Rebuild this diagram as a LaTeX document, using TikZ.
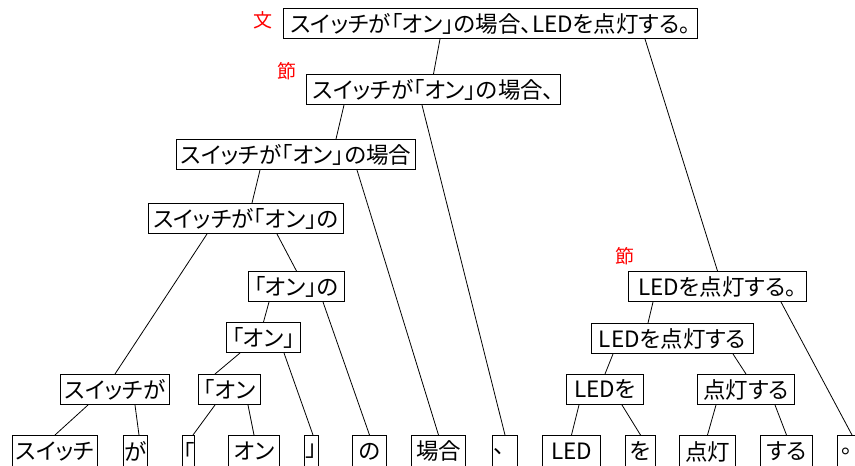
\documentclass[tikz,border=0pt]{standalone}
\usepackage{fontspec}
\newfontfamily\jp[RawFeature=+palt]{Noto Sans CJK JP}
\newfontfamily\jpfull{Noto Sans CJK JP}
\tikzset{
  bx/.style={draw, line width=1pt, inner sep=0pt, anchor=north west, minimum height=30pt, font=\jp\fontsize{22.5}{22.5}\selectfont},
  full/.style={font=\jpfull\fontsize{22.5}{22.5}\selectfont},
  lbl/.style={text=red, inner sep=0pt, font=\jp\fontsize{19}{19}\selectfont},
  ln/.style={line width=0.8pt}
}
\begin{document}
\begin{tikzpicture}[x=1pt,y=-1pt]
\useasboundingbox (0,0) rectangle (855,466);
% top
\node[bx, minimum width=414pt] (S0) at (283,8) {スイッチが「オン」の場合、LEDを点灯する。};
\node[bx, minimum width=254pt] (S1) at (306,74) {スイッチが「オン」の場合、};
\node[bx, minimum width=239pt] (S2) at (176,139) {スイッチが「オン」の場合};
\node[bx, minimum width=195pt] (S3) at (148,203) {スイッチが「オン」の};
\node[bx, minimum width=96pt] (S4) at (248,271) {「オン」の};
\node[bx, minimum width=74pt] (S5) at (226,322) {「オン」};
\node[bx, minimum width=109pt] (S6a) at (60,374) {スイッチが};
\node[bx, minimum width=62pt] (S6b) at (198,374) {「オン};
\node[bx, minimum width=178pt] (R1) at (628,271) {LEDを点灯する。};
\node[bx, minimum width=162pt] (R2) at (591,323) {LEDを点灯する};
\node[bx, minimum width=77pt] (R3a) at (566,374) {LEDを};
\node[bx, minimum width=97pt] (R3b) at (697,374) {点灯する};
% bottom row
\node[bx, minimum width=85pt, minimum height=32pt] (b1) at (12,435) {スイッチ};
\node[bx, minimum width=24pt, minimum height=32pt] (b2) at (123,435) {が};
\node[bx, minimum width=12pt, minimum height=32pt] (b3) at (182,435) {「};
\node[bx, minimum width=51pt, minimum height=32pt] (b4) at (228,435) {オン};
\node[bx, minimum width=14pt, minimum height=32pt] (b5) at (304,435) {」};
\node[bx, minimum width=34pt, minimum height=32pt] (b6) at (352,435) {の};
\node[bx, minimum width=54pt, minimum height=32pt] (b7) at (411,435) {場合};
\node[bx, full, minimum width=25pt, minimum height=32pt] (b8) at (492,435) {、};
\node[bx, minimum width=58pt, minimum height=32pt] (b9) at (542,435) {LED};
\node[bx, minimum width=30pt, minimum height=32pt] (b10) at (625,435) {を};
\node[bx, minimum width=56pt, minimum height=32pt] (b11) at (679,435) {点灯};
\node[bx, minimum width=52pt, minimum height=32pt] (b12) at (760,435) {する};
\node[bx, full, minimum width=30pt, minimum height=32pt] (b13) at (837,435) {。};
% labels
\node[lbl] (L0) at (263,20) {文};
\node[lbl] (L1) at (287,71) {節};
\node[lbl] (L2) at (625,256) {節};
% connectors
\draw[ln] ([xshift=157pt]S0.south west) -- (S1.north);
\draw[ln] ([xshift=362pt]S0.south west) -- (R1.north);
\draw[ln] ([xshift=38pt]S1.south west) -- ([xshift=160pt]S2.north west);
\draw[ln] ([xshift=116pt]S1.south west) -- (b8.north);
\draw[ln] ([xshift=84pt]S2.south west) -- ([xshift=104pt]S3.north west);
\draw[ln] ([xshift=181pt]S2.south west) -- (b7.north);
\draw[ln] ([xshift=59pt]S3.south west) -- (S6a.north);
\draw[ln] ([xshift=129pt]S3.south west) -- (S4.north);
\draw[ln] ([xshift=21pt]S4.south west) -- (S5.north);
\draw[ln] ([xshift=75pt]S4.south west) -- (b6.north);
\draw[ln] ([xshift=14pt]S5.south west) -- ([xshift=17pt]S6b.north west);
\draw[ln] ([xshift=58pt]S5.south west) -- ([xshift=9pt]b5.north west);
\draw[ln] ([xshift=28pt]S6a.south west) -- (b1.north);
\draw[ln] ([xshift=75pt]S6a.south west) -- ([xshift=16pt]b2.north west);
\draw[ln] ([xshift=17pt]S6b.south west) -- ([xshift=11pt]b3.north west);
\draw[ln] ([xshift=50pt]S6b.south west) -- (b4.north);
\draw[ln] ([xshift=25pt]R1.south west) -- ([xshift=57pt]R2.north west);
\draw[ln] ([xshift=153pt]R1.south west) -- ([xshift=15pt]b13.north west);
\draw[ln] ([xshift=22pt]R2.south west) -- (R3a.north);
\draw[ln] ([xshift=142pt]R2.south west) -- (R3b.north);
\draw[ln] ([xshift=13pt]R3a.south west) -- (b9.north);
\draw[ln] ([xshift=56pt]R3a.south west) -- (b10.north);
\draw[ln] ([xshift=19pt]R3b.south west) -- (b11.north);
\draw[ln] ([xshift=78pt]R3b.south west) -- (b12.north);
\end{tikzpicture}
\end{document}
